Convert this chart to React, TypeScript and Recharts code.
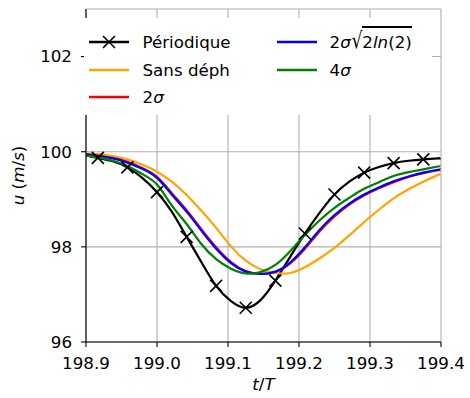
import React from 'react';
import { LineChart, Line, XAxis, YAxis, CartesianGrid } from 'recharts';

const tValues = [198.9, 198.9167, 198.9375, 198.9583, 198.9792, 199.0, 199.0208, 199.0417, 199.0625, 199.0833, 199.1042, 199.125, 199.1458, 199.1667, 199.1875, 199.2083, 199.2292, 199.25, 199.2708, 199.2917, 199.3125, 199.3333, 199.3542, 199.375, 199.3958, 199.4];
const periodique = [99.93, 99.87, 99.8, 99.67, 99.45, 99.15, 98.74, 98.21, 97.68, 97.18, 96.86, 96.72, 96.88, 97.29, 97.79, 98.28, 98.72, 99.1, 99.37, 99.56, 99.68, 99.76, 99.81, 99.84, 99.86, 99.87];
const sansDeph = [99.96, 99.95, 99.91, 99.84, 99.73, 99.58, 99.37, 99.09, 98.76, 98.4, 98.01, 97.71, 97.53, 97.45, 97.45, 97.57, 97.76, 97.98, 98.24, 98.52, 98.78, 99.02, 99.21, 99.37, 99.51, 99.54];
const deuxSigma = [99.95, 99.92, 99.87, 99.79, 99.66, 99.47, 99.13, 98.77, 98.37, 97.99, 97.68, 97.49, 97.43, 97.47, 97.65, 97.96, 98.33, 98.64, 98.89, 99.08, 99.23, 99.36, 99.47, 99.55, 99.61, 99.62];
const fwhm = [99.94, 99.91, 99.86, 99.77, 99.64, 99.45, 99.1, 98.74, 98.34, 97.96, 97.66, 97.48, 97.43, 97.48, 97.67, 97.99, 98.36, 98.67, 98.91, 99.1, 99.25, 99.38, 99.48, 99.56, 99.62, 99.63];
const quatreSigma = [99.92, 99.88, 99.81, 99.7, 99.53, 99.31, 98.87, 98.48, 98.06, 97.74, 97.54, 97.44, 97.47, 97.62, 97.91, 98.25, 98.56, 98.82, 99.03, 99.22, 99.36, 99.49, 99.57, 99.63, 99.69, 99.7];

const xTicks = [198.9, 199.0, 199.1, 199.2, 199.3, 199.4];
const yTicks = [96, 98, 100, 102];

const data = tValues.map((t, i) => ({
  t,
  per: periodique[i],
  sans: sansDeph[i],
  s2: deuxSigma[i],
  fw: fwhm[i],
  s4: quatreSigma[i],
}));

const FONT = 'DejaVu Sans';
const FS = 16.7;

const XMark = ({ cx, cy, s = 6 }: any) => (
  <g>
    <line x1={cx - s} y1={cy - s} x2={cx + s} y2={cy + s} stroke="black" strokeWidth={1.6} />
    <line x1={cx - s} y1={cy + s} x2={cx + s} y2={cy - s} stroke="black" strokeWidth={1.6} />
  </g>
);

const perDot = (props: any) => {
  const { cx, cy, index } = props;
  if (index % 2 === 1 && index < tValues.length - 1) {
    return <XMark key={`m${index}`} cx={cx} cy={cy} />;
  }
  return <g key={`m${index}`} />;
};

const XLabel = (props: any) => {
  const vb = props.viewBox || {};
  const cx = vb.x + vb.width / 2;
  return (
    <text x={cx} y={390} textAnchor="middle" fontFamily={FONT} fontSize={FS} fill="black">
      <tspan fontStyle="italic">t</tspan>
      <tspan>/</tspan>
      <tspan fontStyle="italic">T</tspan>
    </text>
  );
};

const YLabel = (props: any) => {
  const vb = props.viewBox || {};
  const cy = vb.y + vb.height / 2;
  const x = 24;
  return (
    <text x={x} y={cy} transform={`rotate(-90 ${x} ${cy})`} textAnchor="middle" fontFamily={FONT} fontSize={FS} fill="black">
      <tspan fontStyle="italic">u</tspan>
      <tspan> (</tspan>
      <tspan fontStyle="italic">m</tspan>
      <tspan>/</tspan>
      <tspan fontStyle="italic">s</tspan>
      <tspan>)</tspan>
    </text>
  );
};

const legendEntries = [
  { key: 'per', color: 'black', col: 0, row: 0, marker: true },
  { key: 'sans', color: '#FFA500', col: 0, row: 1 },
  { key: 's2', color: '#FF0000', col: 0, row: 2 },
  { key: 'fw', color: '#0000FF', col: 1, row: 0 },
  { key: 's4', color: '#008000', col: 1, row: 1 },
];

const legendLabel = (key: string) => {
  switch (key) {
    case 'per':
      return 'Périodique';
    case 'sans':
      return 'Sans déph';
    case 's2':
      return (
        <span>
          2<i>σ</i>
        </span>
      );
    case 'fw':
      return (
        <span>
          2<i>σ</i>
          <span style={{ display: 'inline-block', transform: 'scaleY(1.35)', transformOrigin: '50% 80%', marginLeft: 1 }}>√</span>
          <span style={{ borderTop: '2px solid black', paddingTop: 4 }}>
            2<i>ln</i>(2)
          </span>
        </span>
      );
    default:
      return (
        <span>
          4<i>σ</i>
        </span>
      );
  }
};

const Legend = () => {
  const colLine = [89, 277];
  const colText = [142.5, 329.5];
  const rowY = [42.3, 69.8, 97.3];
  return (
    <div
      style={{
        position: 'absolute',
        left: 84,
        top: 18,
        width: 348,
        height: 97,
        background: 'white',
      }}
    >
      {legendEntries.map((e) => {
        const y = rowY[e.row] - 18;
        return (
          <React.Fragment key={e.key}>
            <svg
              style={{ position: 'absolute', left: colLine[e.col] - 84, top: y - 10, overflow: 'visible' }}
              width={40}
              height={20}
            >
              <line x1={0} y1={10} x2={40} y2={10} stroke={e.color} strokeWidth={2.3} />
              {e.marker ? <XMark cx={20} cy={10} s={6} /> : null}
            </svg>
            <div
              style={{
                position: 'absolute',
                left: colText[e.col] - 84,
                top: y - 10,
                height: 20,
                lineHeight: '20px',
                fontFamily: FONT,
                fontSize: FS,
                color: 'black',
                whiteSpace: 'nowrap',
              }}
            >
              {legendLabel(e.key)}
            </div>
          </React.Fragment>
        );
      })}
    </div>
  );
};

export default function App() {
  const tickStyle = { fontFamily: FONT, fontSize: FS, fill: 'black' };
  return (
    <div style={{ position: 'absolute', left: 0, top: 0, width: 470, height: 398, background: 'white' }}>
      <LineChart width={470} height={398} data={data} margin={{ top: 9, right: 29, bottom: 0, left: 0 }}>
        <CartesianGrid stroke="#b0b0b0" strokeWidth={1.1} />
        <XAxis
          dataKey="t"
          type="number"
          domain={[198.9, 199.4]}
          ticks={xTicks}
          allowDataOverflow
          tickFormatter={(v: number) => v.toFixed(1)}
          tick={tickStyle}
          tickSize={5}
          tickMargin={10}
          height={56}
          axisLine={{ stroke: 'black', strokeWidth: 1.1 }}
          tickLine={{ stroke: 'black', strokeWidth: 1.1 }}
          label={<XLabel />}
        />
        <XAxis
          xAxisId="top"
          orientation="top"
          dataKey="t"
          type="number"
          domain={[198.9, 199.4]}
          allowDataOverflow
          height={0}
          tick={false}
          tickLine={false}
          axisLine={{ stroke: 'black', strokeWidth: 1.1 }}
        />
        <YAxis
          type="number"
          domain={[96, 103]}
          ticks={yTicks}
          allowDataOverflow
          tick={tickStyle}
          tickSize={5}
          tickMargin={9}
          width={86}
          axisLine={{ stroke: 'black', strokeWidth: 1.1 }}
          tickLine={{ stroke: 'black', strokeWidth: 1.1 }}
          label={<YLabel />}
        />
        <YAxis
          yAxisId="right"
          orientation="right"
          type="number"
          domain={[96, 103]}
          allowDataOverflow
          width={0}
          tick={false}
          tickLine={false}
          axisLine={{ stroke: 'black', strokeWidth: 1.1 }}
        />
        <Line type="natural" dataKey="per" stroke="black" strokeWidth={2.2} dot={perDot} isAnimationActive={false} />
        <Line type="natural" dataKey="sans" stroke="#FFA500" strokeWidth={2.2} dot={false} isAnimationActive={false} />
        <Line type="natural" dataKey="s2" stroke="#FF0000" strokeWidth={2.2} dot={false} isAnimationActive={false} />
        <Line type="natural" dataKey="fw" stroke="#0000FF" strokeWidth={2.2} dot={false} isAnimationActive={false} />
        <Line type="natural" dataKey="s4" stroke="#008000" strokeWidth={2.2} dot={false} isAnimationActive={false} />
      </LineChart>
      <Legend />
    </div>
  );
}
